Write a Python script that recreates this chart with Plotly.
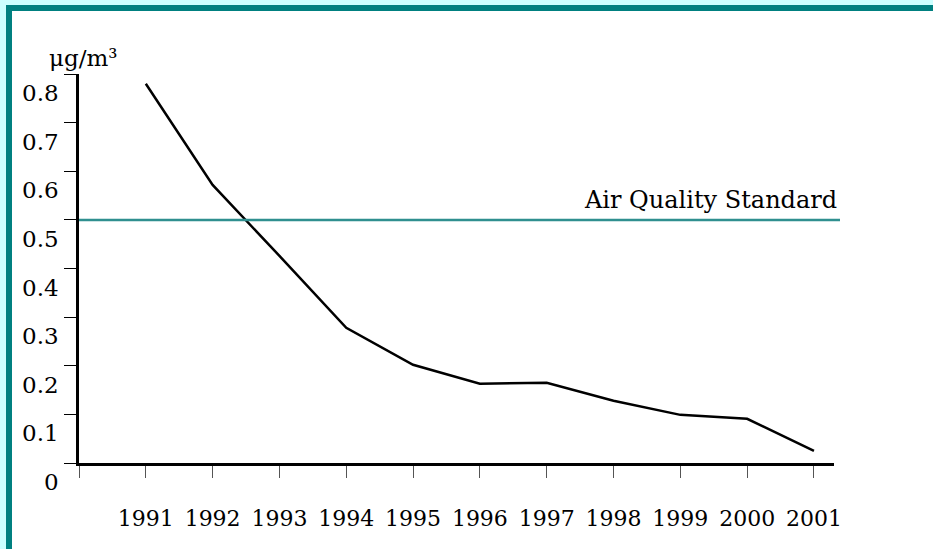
import plotly.graph_objects as go

years = [1991, 1992, 1993, 1994, 1995, 1996, 1997, 1998, 1999, 2000, 2001]
conc = [0.78, 0.572, 0.426, 0.278, 0.202, 0.163, 0.165, 0.128, 0.099, 0.091, 0.025]
standard = 0.5
y_ticks = [0, 0.1, 0.2, 0.3, 0.4, 0.5, 0.6, 0.7, 0.8]
y_labels = ["0", "0.1", "0.2", "0.3", "0.4", "0.5", "0.6", "0.7", "0.8"]

W, H = 933, 549
L, R, T, B = 79, 99, 74, 86


def px(x):
    return (x - L) / (W - L - R)


def py(y):
    return (H - B - y) / (H - T - B)


fig = go.Figure()
fig.add_trace(go.Scatter(x=years, y=conc, mode="lines",
                         line=dict(color="black", width=2.5),
                         showlegend=False, hoverinfo="skip"))

# frame of the slide
fig.add_shape(type="rect", xref="paper", yref="paper",
              x0=px(6), x1=px(W + 5), y0=py(H + 5), y1=py(5),
              fillcolor="#008080", line_width=0, layer="below")
fig.add_shape(type="rect", xref="paper", yref="paper",
              x0=px(12), x1=px(W + 5), y0=py(H + 5), y1=py(11),
              fillcolor="white", line_width=0, layer="below")

# air quality standard line
fig.add_shape(type="line", xref="paper", yref="y",
              x0=0, x1=px(840), y0=standard, y1=standard,
              line=dict(color="#2f8f8f", width=2.5))
fig.add_annotation(text="Air Quality Standard", xref="paper", yref="y",
                   x=px(839), y=standard, xanchor="right", yanchor="bottom",
                   yshift=4, showarrow=False,
                   font=dict(family="DejaVu Serif", size=24, color="black"))
fig.add_annotation(text="μg/m³", xref="paper", yref="paper",
                   x=px(47), y=py(58), xanchor="left", yanchor="middle",
                   showarrow=False,
                   font=dict(family="DejaVu Serif", size=23, color="black"))

fig.update_xaxes(range=[1990, 2001.3], tickmode="array",
                 tickvals=[1990] + years, ticktext=[""] + [str(y) for y in years],
                 showgrid=False, zeroline=False,
                 showline=True, linecolor="black", linewidth=2.5,
                 ticks="outside", ticklen=12, tickwidth=1, tickcolor="#555",
                 ticklabelstandoff=22,
                 tickfont=dict(family="DejaVu Serif", size=22, color="black"))
fig.update_yaxes(range=[0, 0.8], tickmode="array",
                 tickvals=y_ticks, ticktext=y_labels,
                 showgrid=False, zeroline=False,
                 showline=True, linecolor="black", linewidth=2.5,
                 ticks="outside", ticklen=12, tickwidth=1, tickcolor="black",
                 ticklabelshift=19, ticklabelstandoff=1,
                 tickfont=dict(family="DejaVu Serif", size=23, color="black"))

fig.update_layout(width=W, height=H,
                  margin=dict(l=L, r=R, t=T, b=B),
                  paper_bgcolor="#ccffff", plot_bgcolor="white")

# page has a default 8px body margin, drop it so the figure sits at 0,0
fig.write_html("out.html", config={"displayModeBar": False},
               post_script="document.body.style.margin='0';")
